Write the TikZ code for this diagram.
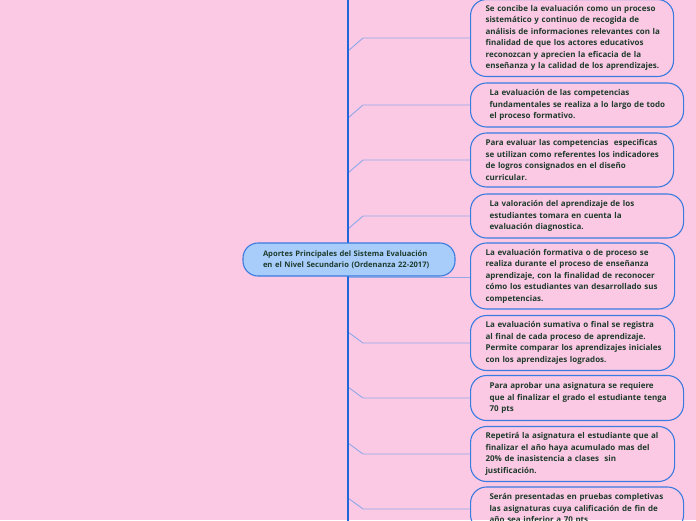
\documentclass[tikz,border=0pt]{standalone}
\usepackage{fontspec}
\setmainfont{Open Sans}
\definecolor{bgpink}{HTML}{FCC9E4}
\definecolor{spineblue}{HTML}{1F66DA}
\definecolor{branchblue}{HTML}{8EA8EA}
\definecolor{boxblue}{HTML}{3A7BE0}
\definecolor{centerfill}{HTML}{A8CDFB}
\definecolor{txt}{HTML}{1E3B2C}
\newcommand\rowtext[1]{\mbox{#1}}
\hbadness=10000 \hfuzz=100pt
\begin{document}
\begin{tikzpicture}[x=1pt,y=-1pt,
  infobox/.style={draw=boxblue, line width=1.1pt, rounded corners=16pt, anchor=west,
    inner xsep=0pt, inner ysep=0pt, align=left, text=txt,
    font=\fontsize{8}{11.5}\selectfont\bfseries},
  centerbox/.style={draw=boxblue, line width=1.1pt, fill=centerfill, rounded corners=15pt,
    inner xsep=0pt, inner ysep=0pt, align=left, text=txt,
    minimum width=212pt, minimum height=33pt, text width=172pt,
    font=\fontsize{7.6}{10.5}\selectfont\bfseries},
  branch/.style={draw=branchblue, line width=0.9pt},
  spine/.style={draw=spineblue, line width=1.3pt}]
\fill[bgpink] (0,0) rectangle (696,520);
\useasboundingbox (0,0) rectangle (696,520);
\clip (0,0) rectangle (696,520);

% boxes: west anchor at x=470, vertical centre at cy
\node[infobox, minimum width=203pt, minimum height=77pt, text width=173pt] (b1) at (470,38)
 {\rowtext{Se concibe la evaluación como un proceso}\\\rowtext{sistemático y continuo de recogida de}\\\rowtext{análisis de informaciones relevantes con la}\\\rowtext{finalidad de que los actores educativos}\\\rowtext{reconozcan y aprecien la eficacia de la}\\\rowtext{enseñanza y la calidad de los aprendizajes.}};
\node[infobox, minimum width=213pt, minimum height=44pt, text width=175pt] (b2) at (470,105)
 {\rowtext{La evaluación de las competencias}\\\rowtext{fundamentales se realiza a lo largo de todo}\\\rowtext{el proceso formativo.}};
\node[infobox, minimum width=203pt, minimum height=54pt, text width=173pt] (b3) at (470,160)
 {\rowtext{Para evaluar las competencias \ especificas}\\\rowtext{se utilizan como referentes los indicadores}\\\rowtext{de logros consignados en el diseño}\\\rowtext{curricular.}};
\node[infobox, minimum width=213pt, minimum height=44pt, text width=175pt] (b4) at (470,216)
 {\rowtext{La valoración del aprendizaje de los}\\\rowtext{estudiantes tomara en cuenta la}\\\rowtext{evaluación diagnostica.}};
\node[infobox, minimum width=204pt, minimum height=66pt, text width=174pt] (b5) at (470,276)
 {\rowtext{La evaluación formativa o de proceso se}\\\rowtext{realiza durante el proceso de enseñanza}\\\rowtext{aprendizaje, con la finalidad de reconocer}\\\rowtext{cómo los estudiantes van desarrollado sus}\\\rowtext{competencias.}};
\node[infobox, minimum width=204pt, minimum height=55pt, text width=174pt] (b6) at (470,343)
 {\rowtext{La evaluación sumativa o final se registra}\\\rowtext{al final de cada proceso de aprendizaje.}\\\rowtext{Permite comparar los aprendizajes iniciales}\\\rowtext{con los aprendizajes logrados.}};
\node[infobox, minimum width=213pt, minimum height=45pt, text width=175pt] (b7) at (470,398)
 {\rowtext{Para aprobar una asignatura se requiere}\\\rowtext{que al finalizar el grado el estudiante tenga}\\\rowtext{70 pts}};
\node[infobox, minimum width=204pt, minimum height=55pt, text width=174pt] (b8) at (470,454)
 {\rowtext{Repetirá la asignatura el estudiante que al}\\\rowtext{finalizar el año haya acumulado mas del}\\\rowtext{20\% de inasistencia a clases \ sin}\\\rowtext{justificación.}};
\node[infobox, minimum width=213pt, minimum height=44pt, text width=175pt] (b9) at (470,509)
 {\rowtext{Serán presentadas en pruebas completivas}\\\rowtext{las asignaturas cuya calificación de fin de}\\\rowtext{año sea inferior a 70 pts}};

% spine
\coordinate (top) at (348,-2);
\coordinate (bot) at (348,522);
% branch start points on spine
\coordinate (s1) at (348,51);
\coordinate (s2) at (348,118);
\coordinate (s3) at (348,173);
\coordinate (s4) at (348,229);
\coordinate (s5) at (348,277);
\coordinate (s6) at (348,332);
\coordinate (s7) at (348,387);
\coordinate (s8) at (348,443);
\coordinate (s9) at (348,498);

\foreach \i in {1,2,3,4} {
  \draw[branch] (s\i) -- ++(15,-13) -- (b\i.west);
}
\draw[branch] (s5) -- (b5.west |- s5);
\foreach \i in {6,7,8,9} {
  \draw[branch] (s\i) -- ++(15,11) -- (b\i.west);
}
\draw[spine] (top) -- (bot);

\node[centerbox] (c) at (349,259.5)
 {\rowtext{Aportes Principales del Sistema Evaluación}\\\rowtext{en el Nivel Secundario (Ordenanza 22-2017)}};
\end{tikzpicture}
\end{document}
